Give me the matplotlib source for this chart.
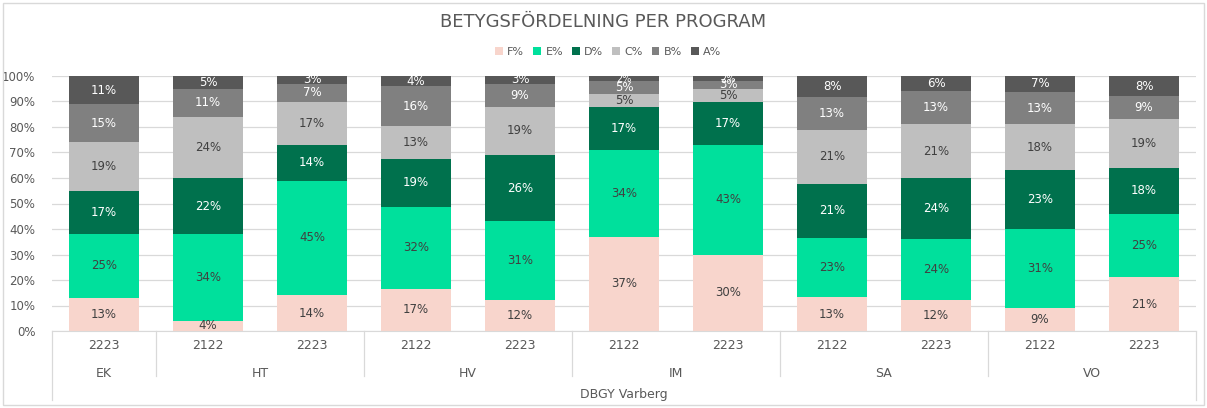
import numpy as np
import matplotlib.pyplot as plt
from matplotlib.patches import Rectangle

plt.rcParams['font.family'] = ['DejaVu Sans']

programs = ["EK", "HT", "HT", "HV", "HV", "IM", "IM", "SA", "SA", "VO", "VO"]
years = ["2223", "2122", "2223", "2122", "2223", "2122", "2223", "2122", "2223", "2122", "2223"]
grades = ["F%", "E%", "D%", "C%", "B%", "A%"]

f_vals = [13, 4, 14, 16.6, 12, 37, 30, 13.3, 12, 9, 21]
e_vals = [25, 34, 45, 32, 31, 34, 43, 23.3, 24, 31, 25]
d_vals = [17, 22, 14, 19, 26, 17, 17, 21.1, 24, 23, 18]
c_vals = [19, 24, 17, 12.8, 19, 5, 5, 21.2, 21, 18, 19]
b_vals = [15, 11, 7, 15.6, 9, 5, 3, 12.8, 13, 12.6, 9]
a_vals = [11, 5, 3, 4, 3, 2, 2, 8.3, 6, 6.6, 8]

colors = ["#F8D5CC", "#00E09C", "#00714D", "#BFBFBF", "#808080", "#585858"]
label_colors = ["#404040", "#404040", "white", "#404040", "white", "white"]
gray = "#595959"

series = [f_vals, e_vals, d_vals, c_vals, b_vals, a_vals]

fig = plt.figure(figsize=(12.07, 4.08), dpi=100)
ax = fig.add_axes([52 / 1207, 1 - 331 / 408, 1144 / 1207, 255 / 408])

x = np.arange(len(years))
bottom = np.zeros(len(years))
for vals, col, lcol, name in zip(series, colors, label_colors, grades):
    vals = np.array(vals, dtype=float)
    ax.bar(x, vals, 0.67, bottom=bottom, color=col, label=name, zorder=2)
    for xi, b, v in zip(x, bottom, vals):
        fs = 8.5 if v >= 3 else 7
        ax.text(xi, b + v / 2, f"{round(v)}%", ha="center", va="center",
                fontsize=fs, color=lcol, zorder=3)
    bottom += vals

ax.set_xlim(-0.5, len(years) - 0.5)
ax.set_ylim(0, 100)
ax.set_yticks(np.arange(0, 101, 10))
ax.set_yticklabels([f"{v}%" for v in range(0, 101, 10)], fontsize=8.5, color=gray)
ax.yaxis.grid(True, color="#D9D9D9", linewidth=0.9, zorder=0)
ax.set_axisbelow(True)
ax.tick_params(axis="y", length=0, pad=12)
ax.set_xticks([])
for s in ["left", "right", "top"]:
    ax.spines[s].set_visible(False)
ax.spines["bottom"].set_color("#D9D9D9")

# multi-level category axis
trans = ax.get_xaxis_transform()
for xi, yr in zip(x, years):
    ax.text(xi, -0.055, yr, transform=trans, ha="center", va="center",
            fontsize=9, color=gray)
groups = []
for i, p in enumerate(programs):
    if groups and groups[-1][0] == p:
        groups[-1][2] = i
    else:
        groups.append([p, i, i])
for p, i0, i1 in groups:
    ax.text((i0 + i1) / 2, -0.165, p, transform=trans, ha="center", va="center",
            fontsize=9, color=gray)
for p, i0, i1 in groups[1:]:
    ax.plot([i0 - 0.5, i0 - 0.5], [0, -0.175], transform=trans, color="#D9D9D9",
            linewidth=0.9, clip_on=False)
for edge in [-0.5, len(years) - 0.5]:
    ax.plot([edge, edge], [0, -0.27], transform=trans, color="#D9D9D9",
            linewidth=0.9, clip_on=False)
ax.text((len(years) - 1) / 2, -0.25, "DBGY Varberg", transform=trans,
        ha="center", va="center", fontsize=9, color=gray)

fig.text(0.5, 1 - 22 / 408, "BETYGSFÖRDELNING PER PROGRAM", ha="center",
         va="center", fontsize=13, color=gray)
fig.legend(loc="center", bbox_to_anchor=(0.504, 1 - 52 / 408), ncol=6,
           frameon=False, fontsize=8, handlelength=0.7, handleheight=0.7,
           handletextpad=0.4, columnspacing=0.8, labelcolor=gray)

fig.patches.append(Rectangle((3 / 1207, 3 / 408), 1201 / 1207, 402 / 408,
                             transform=fig.transFigure, fill=False,
                             edgecolor="#D9D9D9", linewidth=1))

fig.savefig("out.png", dpi=100, facecolor="white")
